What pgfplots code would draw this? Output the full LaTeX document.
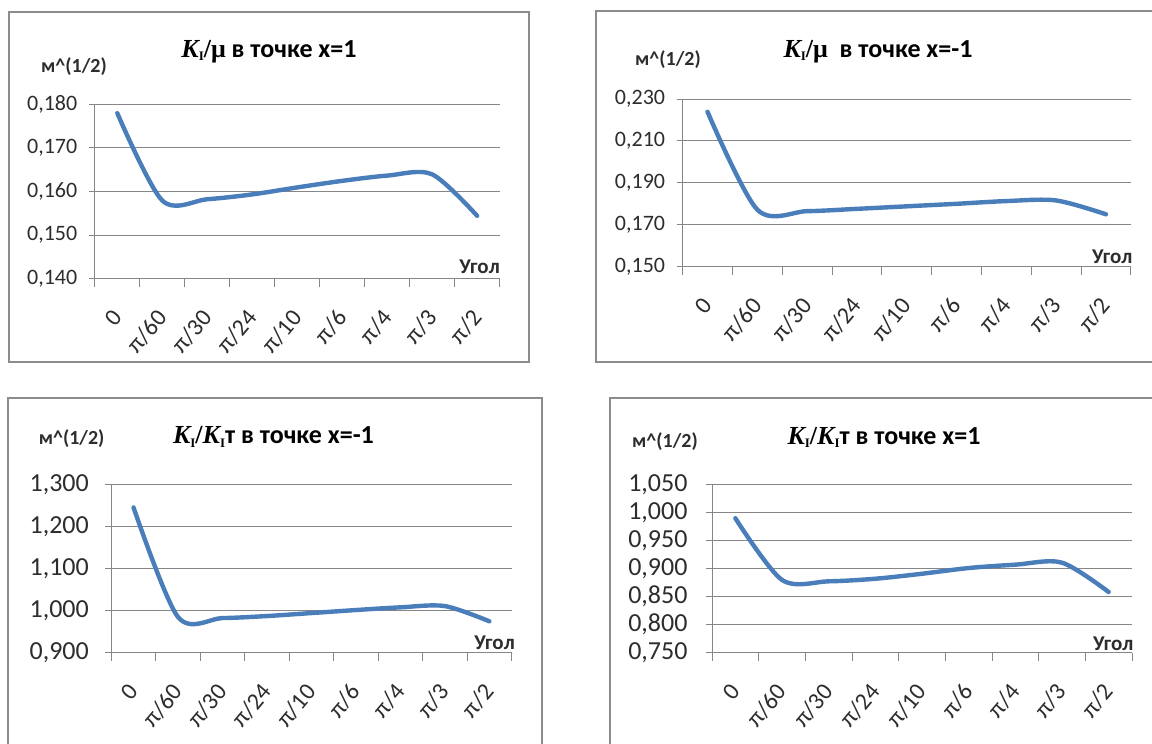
\documentclass[border=0pt]{standalone}
\usepackage{pgfplots}
\pgfplotsset{compat=1.18}
\usepackage{fontspec}
\setmainfont{Carlito}
\newfontfamily\serif{Liberation Serif}
\definecolor{kblue}{RGB}{74,126,187}
\definecolor{gridc}{RGB}{134,134,134}
\definecolor{framec}{RGB}{140,140,140}
\definecolor{txt}{RGB}{45,45,45}
\newcommand{\fs}[1]{\fontsize{#1}{#1}\selectfont}
\newcommand{\KI}{{\serif\bfseries\itshape K}\raisebox{-0.25ex}{\fontsize{13}{13}\selectfont\serif I}}
\pgfplotsset{
  panel/.style={
    scale only axis, anchor=north west,
    xmin=0, xmax=9, clip=false,
    axis lines*=left,
    axis line style={gridc, line width=1pt},
    ymajorgrids, grid style={gridc, line width=1pt},
    xtick={0.5,1.5,2.5,3.5,4.5,5.5,6.5,7.5,8.5},
    xticklabels={0,π/60,π/30,π/24,π/10,π/6,π/4,π/3,π/2},
    minor xtick={0,1,...,9},
    major x tick style={draw=none},
    minor x tick style={gridc, line width=1pt},
    ytick style={gridc, line width=1pt},
    tick align=outside,
    major tick length=6pt, minor tick length=8pt,
    xticklabel style={xshift=2pt, yshift=-26pt, rotate=50, anchor=east, font=\fs{24}, text=txt},
    yticklabel style={text=txt},
    /pgf/number format/fixed, /pgf/number format/fixed zerofill,
    /pgf/number format/precision=3, /pgf/number format/use comma,
    /pgf/number format/assume math mode=true,
  },
  kcurve/.style={kblue, line width=4.4pt, smooth, tension=0.5, line cap=round},
}
\begin{document}
\begin{tikzpicture}
\useasboundingbox (0,0) rectangle (1152pt,-744pt);
\clip (0,0) rectangle (1152pt,-744pt);
\fill[white] (0,0) rectangle (1152pt,-744pt);
% frames
\draw[framec, line width=2pt] (9pt,-11.8pt) rectangle (529pt,-362pt);
\draw[framec, line width=2pt] (596pt,-11pt) rectangle (1160pt,-362pt);
\draw[framec, line width=2pt] (8pt,-397.7pt) rectangle (542pt,-760pt);
\draw[framec, line width=2pt] (609.8pt,-397.7pt) rectangle (1160pt,-760pt);

% panel 1
\begin{axis}[panel, at={(94.8pt,-104pt)}, width=404.8pt, height=174.7pt,
  ymin=0.14, ymax=0.18, ytick={0.14,0.15,0.16,0.17,0.18},
  yticklabel style={font=\fs{22}, xshift=-8pt}]
\addplot[kcurve] coordinates {(0.5,0.1779) (1.5,0.1579) (2.5,0.1582) (3.5,0.1593) (4.5,0.1609) (5.5,0.1624) (6.5,0.1636) (7.5,0.1639) (8.5,0.1544)};
\end{axis}
\node[font=\fs{26}\bfseries] at (269pt,-52pt) {\KI{\serif\bfseries /μ} в точке x=1};
\node[font=\fs{20}\bfseries, text=txt] at (74pt,-67pt) {м\^{}(1/2)};
\node[font=\fs{21}\bfseries, text=txt, anchor=east, inner sep=0pt] at (500pt,-267pt) {Угол};

% panel 2
\begin{axis}[panel, at={(682.6pt,-99pt)}, width=448.3pt, height=167.7pt,
  ymin=0.15, ymax=0.23, ytick={0.15,0.17,0.19,0.21,0.23},
  yticklabel style={font=\fs{22}, xshift=-8pt}]
\addplot[kcurve] coordinates {(0.5,0.2239) (1.5,0.1772) (2.5,0.1765) (3.5,0.1776) (4.5,0.1788) (5.5,0.1800) (6.5,0.1813) (7.5,0.1816) (8.5,0.1750)};
\end{axis}
\node[font=\fs{26}\bfseries] at (878pt,-52pt) {\KI{\serif\bfseries /μ}\ \ в точке x=-1};
\node[font=\fs{20}\bfseries, text=txt] at (668pt,-60pt) {м\^{}(1/2)};
\node[font=\fs{21}\bfseries, text=txt, anchor=east, inner sep=0pt] at (1132.6pt,-257pt) {Угол};

% panel 3
\begin{axis}[panel, at={(111.3pt,-484.7pt)}, width=400.3pt, height=168pt,
  ymin=0.9, ymax=1.3, ytick={0.9,1.0,1.1,1.2,1.3},
  yticklabel style={font=\fs{26}, xshift=-13pt}]
\addplot[kcurve] coordinates {(0.5,1.2458) (1.5,0.985) (2.5,0.9825) (3.5,0.9873) (4.5,0.9944) (5.5,1.0016) (6.5,1.0080) (7.5,1.0110) (8.5,0.9748)};
\end{axis}
\node[font=\fs{26}\bfseries] at (273.5pt,-437pt) {\KI{\serif\bfseries /}\KI т в точке x=-1};
\node[font=\fs{20}\bfseries, text=txt] at (71.6pt,-438.7pt) {м\^{}(1/2)};
\node[font=\fs{21}\bfseries, text=txt, anchor=east, inner sep=0pt] at (515pt,-642.7pt) {Угол};

% panel 4
\begin{axis}[panel, at={(712pt,-484.7pt)}, width=420pt, height=168pt,
  ymin=0.75, ymax=1.05, ytick={0.75,0.8,0.85,0.9,0.95,1.0,1.05},
  yticklabel style={font=\fs{26}, xshift=-15pt}]
\addplot[kcurve] coordinates {(0.5,0.9902) (1.5,0.880) (2.5,0.8775) (3.5,0.8821) (4.5,0.8910) (5.5,0.9012) (6.5,0.9072) (7.5,0.9108) (8.5,0.8584)};
\end{axis}
\node[font=\fs{26}\bfseries] at (884pt,-437.7pt) {\KI{\serif\bfseries /}\KI т в точке x=1};
\node[font=\fs{20}\bfseries, text=txt] at (665pt,-442pt) {м\^{}(1/2)};
\node[font=\fs{21}\bfseries, text=txt, anchor=east, inner sep=0pt] at (1133.7pt,-643.7pt) {Угол};
\end{tikzpicture}
\end{document}
